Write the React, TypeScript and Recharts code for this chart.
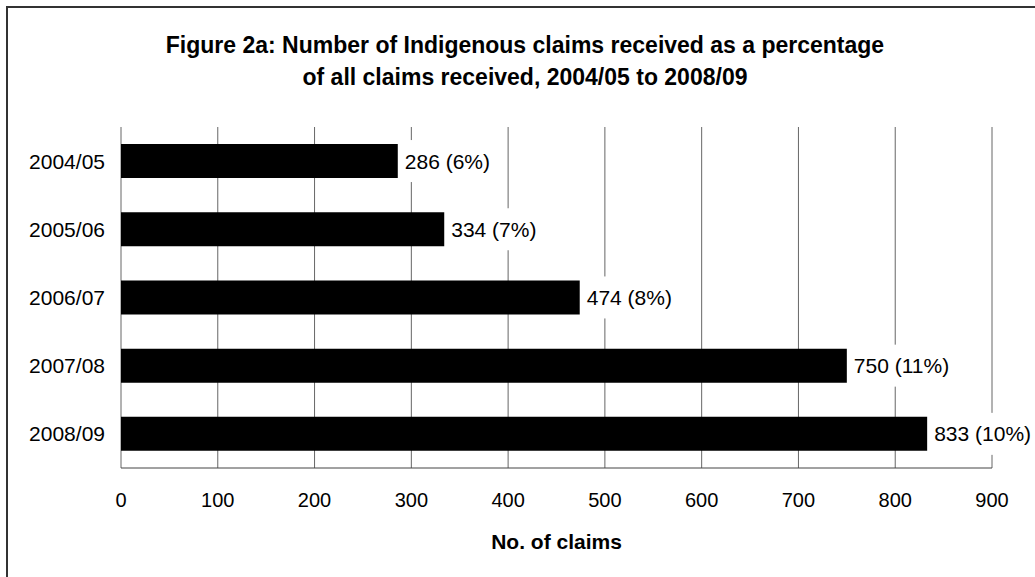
import React from 'react';
import { BarChart, Bar, XAxis, YAxis, CartesianGrid, LabelList, Label } from 'recharts';

const years = ['2004/05', '2005/06', '2006/07', '2007/08', '2008/09'];
const claims = [286, 334, 474, 750, 833];
const percents = [6, 7, 8, 11, 10];
const xTicks = [0, 100, 200, 300, 400, 500, 600, 700, 800, 900];

const data = years.map((y, i) => ({
  year: y,
  claims: claims[i],
  label: `${claims[i]} (${percents[i]}%)`,
}));

const FONT = '"Liberation Sans", Arial, sans-serif';
const LFS = 21;

function textWidth(s: string): number {
  let w = 0;
  for (const c of s) {
    if (c >= '0' && c <= '9') w += 0.556;
    else if (c === ' ') w += 0.278;
    else if (c === '(' || c === ')') w += 0.333;
    else if (c === '%') w += 0.889;
    else w += 0.556;
  }
  return w * LFS;
}

const BarLabel = (props: any) => {
  const { x, y, width, height, value } = props;
  const tx = Number(x) + Number(width) + 7;
  const cy = Number(y) + Number(height) / 2;
  const w = textWidth(String(value));
  return (
    <g>
      <rect x={tx - 4} y={cy - 21} width={w + 8} height={42} fill="#ffffff" />
      <text x={tx} y={cy} dy="0.355em" fontSize={LFS} fontFamily={FONT} fill="#000">
        {value}
      </text>
    </g>
  );
};

export default function App() {
  return (
    <div
      style={{
        position: 'absolute',
        left: 0,
        top: 0,
        width: 1035,
        height: 577,
        overflow: 'hidden',
        background: '#fff',
        fontFamily: FONT,
      }}
    >
      <div
        style={{
          position: 'absolute',
          left: 6,
          top: 6,
          width: 1029,
          height: 571,
          borderLeft: '2px solid #333',
          borderTop: '2px solid #333',
          boxSizing: 'border-box',
        }}
      />
      <div
        style={{
          position: 'absolute',
          left: 15,
          top: 29,
          width: 1020,
          textAlign: 'center',
          fontSize: 23,
          fontWeight: 'bold',
          lineHeight: '32px',
          letterSpacing: 0,
          color: '#000',
        }}
      >
        Figure 2a: Number of Indigenous claims received as a percentage
        <br />
        of all claims received, 2004/05 to 2008/09
      </div>
      <div style={{ position: 'absolute', left: 0, top: 0 }}>
        <BarChart
          width={1035}
          height={577}
          data={data}
          layout="vertical"
          margin={{ top: 127, right: 43, left: 21, bottom: 28 }}
          barCategoryGap="25%"
        >
          <CartesianGrid horizontal={false} vertical={true} stroke="#666" strokeWidth={1} />
          <XAxis
            type="number"
            domain={[0, 900]}
            ticks={xTicks}
            interval={0}
            height={81}
            axisLine={{ stroke: '#444', strokeWidth: 1 }}
            tickLine={false}
            tickSize={0}
            tickMargin={25}
            tick={{ fontSize: 20, fontFamily: FONT, fill: '#000' }}
          >
            <Label
              value="No. of claims"
              position="insideBottom"
              offset={0}
              style={{ fontSize: 21, fontWeight: 'bold', fontFamily: FONT, fill: '#000' }}
            />
          </XAxis>
          <YAxis
            type="category"
            dataKey="year"
            width={100}
            axisLine={false}
            tickLine={false}
            tickSize={0}
            tickMargin={16}
            tick={{ fontSize: 21, fontFamily: FONT, fill: '#000' }}
          />
          <Bar dataKey="claims" fill="#000" isAnimationActive={false}>
            <LabelList dataKey="label" content={BarLabel} />
          </Bar>
        </BarChart>
      </div>
    </div>
  );
}
